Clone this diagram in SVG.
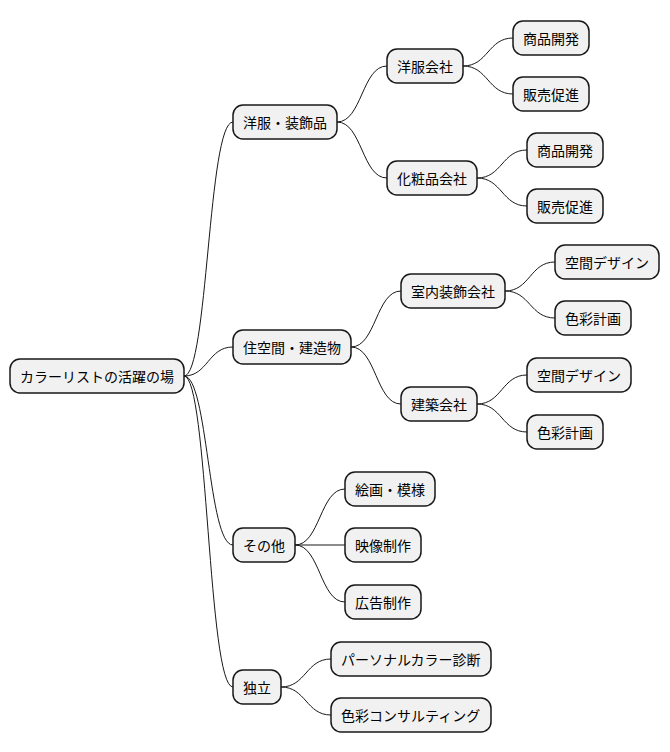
<svg xmlns="http://www.w3.org/2000/svg" width="670" height="752" viewBox="0 0 670 752">
<style>
.n rect{fill:#F1F1F1;stroke:#181818;stroke-width:1.5}
.n text{font-family:"Noto Sans CJK JP","Liberation Sans",sans-serif;font-size:14px;fill:#000;dominant-baseline:central}
.c path{fill:none;stroke:#181818;stroke-width:1}
</style>
<rect width="670" height="752" fill="#fff"/>
<g class="c">
<path d="M184,376 C208,376 208,122 233,122"/>
<path d="M184,376 C208,376 208,347 233,347"/>
<path d="M184,376 C208,376 208,545 233,545"/>
<path d="M184,376 C208,376 208,687 233,687"/>
<path d="M337,122 C362,122 362,66 387,66"/>
<path d="M337,122 C362,122 362,178 387,178"/>
<path d="M463,66 C488,66 488,38 513,38"/>
<path d="M463,66 C488,66 488,94 513,94"/>
<path d="M477,178 C502,178 502,150 527,150"/>
<path d="M477,178 C502,178 502,206 527,206"/>
<path d="M351,347 C376,347 376,291 401,291"/>
<path d="M351,347 C376,347 376,404 401,404"/>
<path d="M505,291 C530,291 530,262 555,262"/>
<path d="M505,291 C530,291 530,318 555,318"/>
<path d="M477,404 C502,404 502,375 527,375"/>
<path d="M477,404 C502,404 502,432 527,432"/>
<path d="M295,545 C320,545 320,489 345,489"/>
<path d="M295,545 L345,545"/>
<path d="M295,545 C320,545 320,602 345,602"/>
<path d="M281,687 C306,687 306,659 331,659"/>
<path d="M281,687 C306,687 306,715 331,715"/>
</g>
<g id="root" class="n"><rect x="10" y="359" width="174" height="34" rx="10"/><text x="20" y="376">カラーリストの活躍の場</text></g>
<g id="n1" class="n"><rect x="233" y="105" width="104" height="34" rx="10"/><text x="243" y="122">洋服・装飾品</text></g>
<g id="n11" class="n"><rect x="387" y="49" width="76" height="34" rx="10"/><text x="397" y="66">洋服会社</text></g>
<g id="n111" class="n"><rect x="513" y="21" width="76" height="34" rx="10"/><text x="523" y="38">商品開発</text></g>
<g id="n112" class="n"><rect x="513" y="77" width="76" height="34" rx="10"/><text x="523" y="94">販売促進</text></g>
<g id="n12" class="n"><rect x="387" y="161" width="90" height="34" rx="10"/><text x="397" y="178">化粧品会社</text></g>
<g id="n121" class="n"><rect x="527" y="133" width="76" height="34" rx="10"/><text x="537" y="150">商品開発</text></g>
<g id="n122" class="n"><rect x="527" y="189" width="76" height="34" rx="10"/><text x="537" y="206">販売促進</text></g>
<g id="n2" class="n"><rect x="233" y="330" width="118" height="34" rx="10"/><text x="243" y="347">住空間・建造物</text></g>
<g id="n21" class="n"><rect x="401" y="274" width="104" height="34" rx="10"/><text x="411" y="291">室内装飾会社</text></g>
<g id="n211" class="n"><rect x="555" y="245" width="104" height="34" rx="10"/><text x="565" y="262">空間デザイン</text></g>
<g id="n212" class="n"><rect x="555" y="301" width="76" height="34" rx="10"/><text x="565" y="318">色彩計画</text></g>
<g id="n22" class="n"><rect x="401" y="387" width="76" height="34" rx="10"/><text x="411" y="404">建築会社</text></g>
<g id="n221" class="n"><rect x="527" y="358" width="104" height="34" rx="10"/><text x="537" y="375">空間デザイン</text></g>
<g id="n222" class="n"><rect x="527" y="415" width="76" height="34" rx="10"/><text x="537" y="432">色彩計画</text></g>
<g id="n3" class="n"><rect x="233" y="528" width="62" height="34" rx="10"/><text x="243" y="545">その他</text></g>
<g id="n31" class="n"><rect x="345" y="472" width="90" height="34" rx="10"/><text x="355" y="489">絵画・模様</text></g>
<g id="n32" class="n"><rect x="345" y="528" width="76" height="34" rx="10"/><text x="355" y="545">映像制作</text></g>
<g id="n33" class="n"><rect x="345" y="585" width="76" height="34" rx="10"/><text x="355" y="602">広告制作</text></g>
<g id="n4" class="n"><rect x="233" y="670" width="48" height="34" rx="10"/><text x="243" y="687">独立</text></g>
<g id="n41" class="n"><rect x="331" y="642" width="160" height="34" rx="10"/><text x="341" y="659">パーソナルカラー診断</text></g>
<g id="n42" class="n"><rect x="331" y="698" width="160" height="34" rx="10"/><text x="341" y="715">色彩コンサルティング</text></g>
</svg>
